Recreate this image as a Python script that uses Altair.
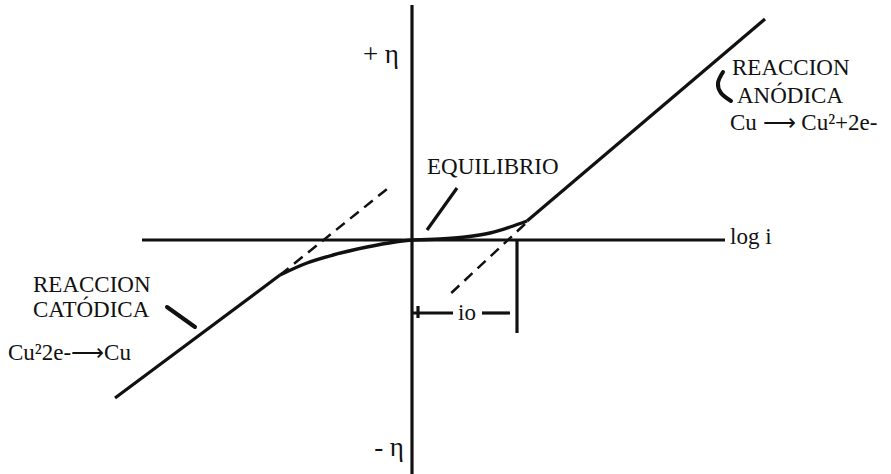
import altair as alt
import pandas as pd

# Tafel diagram for the Cu / Cu2+ electrode: overpotential (eta) vs log i.
# Units: x = log i (relative), y = eta (relative); origin = equilibrium point.

X_DOMAIN = [-4.12, 4.79]
Y_DOMAIN = [-2.34, 2.40]

# Straight strokes: axes, Tafel lines, i0 marker, leader lines
axis_eta_x = [0.0, 0.0]
axis_eta_y = [2.35, -2.34]
axis_logi_x = [-2.70, 3.13]
axis_logi_y = [0.0, 0.0]
tafel_anodic_x = [1.15, 3.53]
tafel_anodic_y = [0.19, 2.21]
tafel_cathodic_x = [-1.32, -2.97]
tafel_cathodic_y = [-0.35, -1.58]
io_drop_x = [1.05, 1.05]
io_drop_y = [0.0, -0.93]
io_left_x = [0.0, 0.41]
io_left_y = [-0.73, -0.73]
io_right_x = [0.70, 0.98]
io_right_y = [-0.73, -0.73]
io_tick_x = [0.06, 0.06]
io_tick_y = [-0.66, -0.78]
equil_ptr_x = [0.45, 0.15]
equil_ptr_y = [0.52, 0.10]

# Curved polarisation branches near equilibrium
curve_anodic_x = [0.0, 0.28, 0.53, 0.78, 0.98, 1.15]
curve_anodic_y = [0.0, 0.01, 0.03, 0.07, 0.13, 0.19]
curve_cathodic_x = [-1.32, -1.05, -0.79, -0.45, -0.17, 0.0]
curve_cathodic_y = [-0.35, -0.23, -0.15, -0.07, -0.02, 0.0]

# Bracket-like leaders next to the reaction labels
paren_x = [3.11, 3.06, 3.09, 3.19]
paren_y = [1.68, 1.57, 1.47, 1.39]
cat_ptr_x = [-2.45, -2.17]
cat_ptr_y = [-0.67, -0.87]

# Extrapolated Tafel lines (dashed)
dash_cathodic_x = [-1.32, -0.20]
dash_cathodic_y = [-0.35, 0.55]
dash_anodic_x = [1.13, 0.35]
dash_anodic_y = [0.16, -0.57]

# Text labels
left_texts = ["EQUILIBRIO", "log i", "REACCION", "ANÓDICA", "Cu ⟶ Cu²+2e-",
              "REACCION", "CATÓDICA", "Cu²2e-⟶Cu"]
left_x = [0.15, 3.18, 3.20, 3.25, 3.18, -3.79, -3.79, -4.04]
left_y = [0.66, -0.04, 1.65, 1.37, 1.10, -0.52, -0.77, -1.20]
eta_texts = ["+ η", "- η"]
eta_x = [-0.13, -0.08]
eta_y = [1.77, -2.16]
center_texts = ["io"]
center_x = [0.55]
center_y = [-0.80]


def polylines(groups):
    rows = []
    for name, xs, ys in groups:
        for i, (x, y) in enumerate(zip(xs, ys)):
            rows.append({"seg": name, "ord": i, "x": x, "y": y})
    return pd.DataFrame(rows)


xs = alt.Scale(domain=X_DOMAIN, nice=False, zero=False)
ys = alt.Scale(domain=Y_DOMAIN, nice=False, zero=False)
X = alt.X("x:Q", scale=xs, axis=None)
Y = alt.Y("y:Q", scale=ys, axis=None)
INK = "#111111"
FONT = "Liberation Serif"

straight = polylines([
    ("eta", axis_eta_x, axis_eta_y),
    ("logi", axis_logi_x, axis_logi_y),
    ("ta", tafel_anodic_x, tafel_anodic_y),
    ("tc", tafel_cathodic_x, tafel_cathodic_y),
    ("iod", io_drop_x, io_drop_y),
    ("iol", io_left_x, io_left_y),
    ("ior", io_right_x, io_right_y),
    ("iot", io_tick_x, io_tick_y),
    ("eqp", equil_ptr_x, equil_ptr_y),
])
curves = polylines([
    ("ca", curve_anodic_x, curve_anodic_y),
    ("cc", curve_cathodic_x, curve_cathodic_y),
])
leaders = polylines([
    ("par", paren_x, paren_y),
    ("cp", cat_ptr_x, cat_ptr_y),
])
dashed = polylines([
    ("dc", dash_cathodic_x, dash_cathodic_y),
    ("da", dash_anodic_x, dash_anodic_y),
])

straight_layer = alt.Chart(straight).mark_line(
    color=INK, strokeWidth=3.2, strokeCap="butt"
).encode(x=X, y=Y, detail="seg:N", order="ord:Q")

curve_layer = alt.Chart(curves).mark_line(
    color=INK, strokeWidth=3.4, interpolate="monotone"
).encode(x=X, y=Y, detail="seg:N", order="ord:Q")

leader_layer = alt.Chart(leaders).mark_line(
    color=INK, strokeWidth=4, interpolate="cardinal", strokeCap="round"
).encode(x=X, y=Y, detail="seg:N", order="ord:Q")

dash_layer = alt.Chart(dashed).mark_line(
    color=INK, strokeWidth=2.5, strokeDash=[11, 7]
).encode(x=X, y=Y, detail="seg:N", order="ord:Q")

left_df = pd.DataFrame({"t": left_texts, "x": left_x, "y": left_y})
eta_df = pd.DataFrame({"t": eta_texts, "x": eta_x, "y": eta_y})
center_df = pd.DataFrame({"t": center_texts, "x": center_x, "y": center_y})

text_kw = dict(font=FONT, color=INK, baseline="alphabetic")
left_layer = alt.Chart(left_df).mark_text(align="left", fontSize=23, **text_kw).encode(
    x=X, y=Y, text="t:N")
eta_layer = alt.Chart(eta_df).mark_text(align="right", fontSize=27, **text_kw).encode(
    x=X, y=Y, text="t:N")
center_layer = alt.Chart(center_df).mark_text(align="center", fontSize=23, **text_kw).encode(
    x=X, y=Y, text="t:N")

chart = alt.layer(
    straight_layer, curve_layer, leader_layer, dash_layer,
    left_layer, eta_layer, center_layer,
).properties(
    width=891, height=474, padding=0, autosize=alt.AutoSizeParams(type="none"),
    background="white",
).configure_view(stroke=None)

chart.save("out.html", embed_options={"renderer": "svg", "actions": False})
